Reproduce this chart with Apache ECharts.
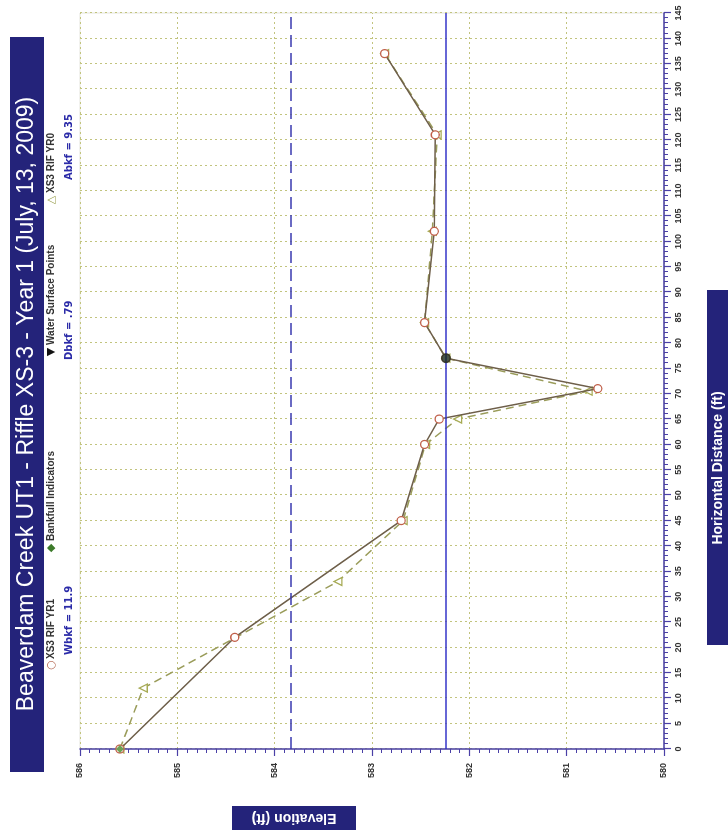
<!DOCTYPE html>
<html><head><meta charset="utf-8">
<script src="https://cdn.jsdelivr.net/npm/echarts@6/dist/echarts.min.js"></script>
<style>
html,body{margin:0;padding:0;width:728px;height:834px;overflow:hidden;background:#fff}
#chart{position:absolute;left:0;top:834px;width:834px;height:728px;transform-origin:0 0;transform:rotate(-90deg);}
</style></head><body><div id="chart"></div>
<script>
// ---- data ----
const titleText = 'Beaverdam Creek UT1 - Riffle XS-3 - Year 1 (July, 13, 2009)';
const legendNames = ['XS3 RIF YR1', 'Bankfull Indicators', 'Water Surface Points', 'XS3 RIF YR0'];
const annotations = ['Wbkf = 11.9', 'Dbkf = .79', 'Abkf = 9.35'];
const xAxisName = 'Horizontal Distance (ft)';
const yAxisName = 'Elevation (ft)';

const distYR1 = [0, 22, 45, 60, 65, 71, 77, 84, 102, 121, 137];
const elevYR1 = [585.59, 584.41, 582.70, 582.46, 582.31, 580.68, 582.24, 582.46, 582.36, 582.35, 582.87];

const distYR0 = [0, 12, 33, 45, 60, 65, 70.5, 77, 84, 102, 121, 137];
const elevYR0 = [585.59, 585.35, 583.35, 582.68, 582.45, 582.12, 580.78, 582.24, 582.46, 582.38, 582.33, 582.87];

const distBankfull = [0];
const elevBankfull = [585.59];

const distWater = [77];
const elevWater = [582.24];

const waterSurfaceElev = 582.24;
const bankfullElev = 583.83;

const distMin = 0, distMax = 145, distStep = 5;
const elevMin = 580, elevMax = 586, elevStep = 1;

// ---- chart ----
const pairs = (xs, ys) => xs.map((x, i) => [x, ys[i]]);
const navy = '#24237a';
const axisBlue = '#4a40a6';

const chart = echarts.init(document.getElementById('chart'), null, {renderer: 'canvas', width: 834, height: 728});

const legendPos = [
  {sym: '○', sx: 169, tx: 175, color: '#b0604a'},
  {sym: '◆', sx: 286, tx: 293, color: '#3c7a2a'},
  {sym: '▼', sx: 482, tx: 489, color: '#111'},
  {sym: '△', sx: 634, tx: 641, color: '#9aa050'}
];
const annPos = [179, 474, 654];

const graphics = [
  {type: 'rect', shape: {x: 62, y: 10, width: 735, height: 34}, style: {fill: navy}, z: 10},
  {type: 'text', x: 430, y: 27, z: 11, style: {text: titleText, fill: '#fff', font: '23px "Liberation Sans", Arial, sans-serif', align: 'center', verticalAlign: 'middle'}},
  {type: 'rect', shape: {x: 189, y: 707, width: 355, height: 21}, style: {fill: navy}, z: 10},
  {type: 'text', x: 366, y: 718, z: 11, style: {text: xAxisName, fill: '#fff', font: 'bold 14px "Liberation Sans", Arial, sans-serif', align: 'center', verticalAlign: 'middle'}},
  {type: 'rect', shape: {x: 4, y: 232, width: 24, height: 124}, style: {fill: navy}, z: 10},
  {type: 'text', x: 16, y: 294, rotation: Math.PI / 2, z: 11, style: {text: yAxisName, fill: '#fff', font: 'bold 14px "Liberation Sans", Arial, sans-serif', align: 'center', verticalAlign: 'middle'}}
];
legendNames.forEach((n, i) => {
  const p = legendPos[i];
  graphics.push({type: 'text', x: p.sx, y: 51, z: 11, style: {text: p.sym, fill: p.color, font: '11px "DejaVu Sans", sans-serif', align: 'center', verticalAlign: 'middle'}});
  graphics.push({type: 'text', x: p.tx, y: 51, z: 11, style: {text: n, fill: '#333', font: 'bold 10px "Liberation Sans", Arial, sans-serif', align: 'left', verticalAlign: 'middle'}});
});
annotations.forEach((t, i) => {
  graphics.push({type: 'text', x: annPos[i], y: 69, z: 11, style: {text: t, fill: '#2b2ba8', font: 'bold 10px "DejaVu Sans", sans-serif', align: 'left', verticalAlign: 'middle'}});
});

chart.setOption({
  animation: false,
  backgroundColor: '#fff',
  grid: {left: 85, right: 13, top: 80, bottom: 64, show: true, borderColor: '#e4e4dc', borderWidth: 1, backgroundColor: '#fff'},
  xAxis: {
    type: 'value', min: distMin, max: distMax, interval: distStep,
    axisLine: {show: true, onZero: false, lineStyle: {color: axisBlue, width: 1.5}},
    axisTick: {show: true, length: 7, lineStyle: {color: axisBlue, width: 1.2}},
    minorTick: {show: true, splitNumber: 5, length: 4, lineStyle: {color: axisBlue}},
    axisLabel: {color: '#333', fontWeight: 'bold', fontSize: 9, margin: 10, fontFamily: '"Liberation Sans", Arial'},
    splitLine: {show: true, lineStyle: {color: '#c2c47e', type: [2, 3], width: 1}}
  },
  yAxis: {
    type: 'value', min: elevMin, max: elevMax, interval: elevStep,
    axisLine: {show: true, onZero: false, lineStyle: {color: axisBlue, width: 1.5}},
    axisTick: {show: true, length: 7, lineStyle: {color: axisBlue, width: 1.2}},
    minorTick: {show: true, splitNumber: 10, length: 4, lineStyle: {color: axisBlue}},
    axisLabel: {color: '#333', fontWeight: 'bold', fontSize: 9, margin: 14, fontFamily: '"Liberation Sans", Arial'},
    splitLine: {show: true, lineStyle: {color: '#c2c47e', type: [2, 3], width: 1}}
  },
  graphic: graphics,
  series: [
    {
      name: legendNames[3], type: 'line', data: pairs(distYR0, elevYR0),
      symbol: 'triangle', symbolSize: 8,
      lineStyle: {color: '#9a9c5a', width: 1.5, type: [8, 5]},
      itemStyle: {color: '#fff', borderColor: '#a7ab55', borderWidth: 1.3}, z: 3
    },
    {
      name: legendNames[0], type: 'line', data: pairs(distYR1, elevYR1),
      symbol: 'circle', symbolSize: 8,
      lineStyle: {color: '#6e5f4a', width: 1.5},
      itemStyle: {color: '#fff', borderColor: '#c0604a', borderWidth: 1.3}, z: 4,
      markLine: {
        silent: true, symbol: 'none', label: {show: false},
        data: [
          {yAxis: waterSurfaceElev, lineStyle: {color: '#3434c8', width: 1.6, type: 'solid'}},
          {yAxis: bankfullElev, lineStyle: {color: '#3a3ab0', width: 1.6, type: [12, 6]}}
        ]
      }
    },
    {
      name: legendNames[1], type: 'scatter', data: pairs(distBankfull, elevBankfull),
      symbol: 'diamond', symbolSize: 8, itemStyle: {color: '#4a8a2a'}, z: 5
    },
    {
      name: legendNames[2], type: 'scatter', data: pairs(distWater, elevWater),
      symbol: 'circle', symbolSize: 10, itemStyle: {color: '#1a2a1a'}, z: 6
    }
  ]
});
</script></body></html>
